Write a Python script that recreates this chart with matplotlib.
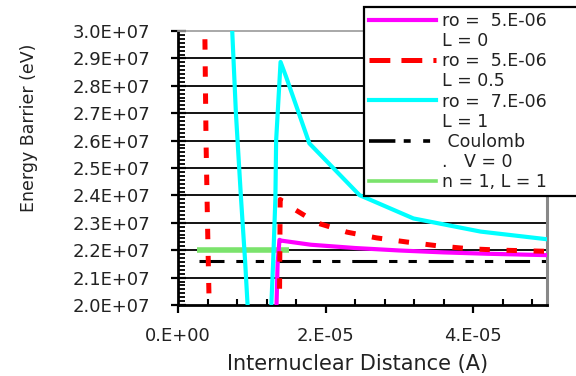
import matplotlib
matplotlib.use("Agg")
import matplotlib.pyplot as plt
from matplotlib.lines import Line2D
from matplotlib.ticker import AutoMinorLocator, MultipleLocator

plt.rcParams['font.family'] = ['DejaVu Sans']
plt.rcParams['lines.scale_dashes'] = False

# series (x in A, y in eV)
mag_x = [1.33e-5, 1.35e-5, 1.375e-5, 1.40e-5, 1.8e-5, 2.4e-5, 3.0e-5, 3.6e-5, 4.2e-5, 5.0e-5]
mag_y = [1.95e7, 2.15e7, 2.238e7, 2.235e7, 2.22e7, 2.208e7, 2.199e7, 2.192e7, 2.187e7, 2.182e7]

red_x = [3.65e-6, 3.8e-6, 4.0e-6, 4.3e-6, 1.37e-5, 1.375e-5, 1.385e-5, 1.55e-5, 1.88e-5, 2.29e-5,
         2.69e-5, 3.1e-5, 3.55e-5, 3.96e-5, 4.4e-5, 5.0e-5]
red_y = [2.97e7, 2.6e7, 2.3e7, 1.9e7, 1.9e7, 2.0e7, 2.385e7, 2.354e7, 2.30e7, 2.266e7,
         2.245e7, 2.23e7, 2.215e7, 2.205e7, 2.20e7, 2.196e7]

cyan_x = [7.18e-6, 7.35e-6, 7.85e-6, 8.53e-6, 9.1e-6, 9.64e-6, 1.25e-5, 1.265e-5, 1.29e-5,
          1.32e-5, 1.33e-5, 1.39e-5, 1.465e-5, 1.78e-5, 2.46e-5, 3.19e-5, 4.1e-5, 5.0e-5]
cyan_y = [3.1e7, 3.0e7, 2.70e7, 2.394e7, 2.158e7, 1.9e7, 1.9e7, 2.0e7, 2.16e7,
          2.39e7, 2.60e7, 2.887e7, 2.833e7, 2.59e7, 2.401e7, 2.316e7, 2.268e7, 2.24e7]

coul_x = [2.8e-6, 5.0e-5]
coul_y = [2.159e7, 2.159e7]

green_x = [2.6e-6, 1.51e-5]
green_y = [2.2e7, 2.2e7]

x_ticks = [0, 2e-5, 4e-5]
x_ticklabels = ["0.E+00", "2.E-05", "4.E-05"]
y_ticks = [2.0e7, 2.1e7, 2.2e7, 2.3e7, 2.4e7, 2.5e7, 2.6e7, 2.7e7, 2.8e7, 2.9e7, 3.0e7]
y_ticklabels = ["2.0E+07", "2.1E+07", "2.2E+07", "2.3E+07", "2.4E+07", "2.5E+07",
                "2.6E+07", "2.7E+07", "2.8E+07", "2.9E+07", "3.0E+07"]

labels = ["ro =  5.E-06", "L = 0", "ro =  5.E-06", "L = 0.5", "ro =  7.E-06", "L = 1",
          " Coulomb", ".   V = 0", "n = 1, L = 1"]

red_dash = (0, (7.5, 12))
coul_dash = (0, (18, 8.5, 6, 8, 6, 8.5))

fig = plt.figure(figsize=(5.76, 3.76), dpi=100)
ax = fig.add_axes([0.309, 0.1888, 0.6406, 0.7287])

for y in y_ticks[1:-1]:
    ax.axhline(y, color='black', lw=1.3, zorder=1)

ax.plot(green_x, green_y, color='#7be36c', lw=4, solid_capstyle='butt', zorder=2)
ax.plot(coul_x, coul_y, color='black', lw=2.2, linestyle=coul_dash, dash_capstyle='butt', zorder=2.5)
ax.plot(mag_x, mag_y, color='#ff00ff', lw=3, zorder=3)
ax.plot(red_x, red_y, color='#ff0000', lw=3.6, linestyle=red_dash, dash_capstyle='butt', zorder=4)
ax.plot(cyan_x, cyan_y, color='#00ffff', lw=3, zorder=5)

ax.set_xlim(0, 5e-5)
ax.set_ylim(2.0e7, 3.0e7)
ax.set_xticks(x_ticks, labels=x_ticklabels)
ax.set_yticks(y_ticks, labels=y_ticklabels)
ax.xaxis.set_minor_locator(MultipleLocator(4e-6))
ax.yaxis.set_minor_locator(AutoMinorLocator(7))

ax.tick_params(axis='x', which='major', direction='out', length=5.8, width=1.6,
               pad=10, labelsize=13, labelcolor='#222222')
ax.tick_params(axis='x', which='minor', direction='in', length=4, width=1.5)
ax.tick_params(axis='y', which='major', direction='inout', length=10.8, width=1.6,
               pad=14.6, labelsize=13, labelcolor='#222222')
ax.tick_params(axis='y', which='minor', direction='in', length=5, width=1.3)

ax.spines['left'].set_linewidth(2)
ax.spines['bottom'].set_linewidth(2)
ax.spines['top'].set_color('#999999')
ax.spines['top'].set_linewidth(1.2)
ax.spines['right'].set_color('#888888')
ax.spines['right'].set_linewidth(2.2)

ax.set_xlabel("Internuclear Distance (A)", fontsize=15, color='#222222')
ax.xaxis.set_label_coords(0.488, -0.18)
ax.set_ylabel("Energy Barrier (eV)", fontsize=12.5, color='#222222')
ax.yaxis.set_label_coords(-0.379, 0.646)

blank = Line2D([], [], color='none')
handles = [
    Line2D([], [], color='#ff00ff', lw=3), blank,
    Line2D([], [], color='#ff0000', lw=3.6, linestyle=(0, (15, 8)), dash_capstyle='butt'), blank,
    Line2D([], [], color='#00ffff', lw=3), blank,
    Line2D([], [], color='black', lw=2.6, linestyle=(0, (19, 6, 5, 9, 5, 9)), dash_capstyle='butt'), blank,
    Line2D([], [], color='#7be36c', lw=2.6),
]
leg = ax.legend(handles, labels, loc='upper left', mode='expand',
                bbox_to_anchor=(364 / 576, 1 - 195 / 376, 0.5, 188 / 376),
                bbox_transform=fig.transFigure, borderaxespad=0,
                fontsize=12.5, labelspacing=0.12, handlelength=3.85, handletextpad=0.35,
                borderpad=0.3, fancybox=False, framealpha=1, edgecolor='black')
leg.get_frame().set_linewidth(1.6)
for t in leg.get_texts():
    t.set_color('#222222')
leg.set_zorder(10)

fig.savefig("out.png", dpi=100)
